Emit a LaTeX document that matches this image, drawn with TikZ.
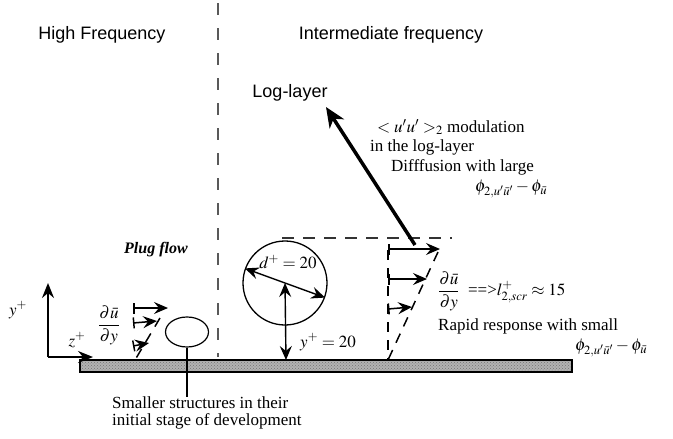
\documentclass[tikz,border=0pt]{standalone}
\usepackage{amsmath}
\usepackage{mathptmx}
\usepackage[no-math]{fontspec}
\setmainfont{Liberation Serif}
\setsansfont{Liberation Sans}
\usetikzlibrary{arrows.meta,shapes.geometric,patterns}

\tikzset{
  head/.style={font=\sffamily\fontsize{18}{22}\selectfont, inner sep=0pt},
  txt/.style={font=\fontsize{17}{17}\selectfont, align=left, inner sep=0pt},
  velarrow/.style={line width=1.5pt, {Bar[width=11pt]}-{Stealth[length=14pt,width=12pt,inset=5pt]}},
  profline/.style={line width=1.5pt, dash pattern=on 10pt off 8pt},
  twoway/.style={line width=1.4pt, {Stealth[length=14pt,width=12pt,inset=5pt]}-{Stealth[length=14pt,width=12pt,inset=5pt]}},
}

\begin{document}
\begin{tikzpicture}[x=1pt,y=-1pt]
\useasboundingbox (0,0) rectangle (673,439);

% regions
\draw[black!65, line width=2pt, dash pattern=on 12pt off 13pt] (218,3) -- (218,357);
\node[head] (hf) at (102,35) {High Frequency};
\node[head] (imf) at (391,35) {Intermediate frequency};

% wall
\fill[gray!60] (80,360) rectangle (572,372);
\fill[pattern=crosshatch dots, pattern color=black!55] (80,360) rectangle (572,372);
\draw[line width=1.1pt] (80,360) rectangle (572,372);

% axes
\coordinate (orig) at (48,357);
\coordinate (ytip) at (48,283);
\coordinate (ztip) at (93,357);
\draw[line width=1.6pt, -{Stealth[length=15pt,width=12pt,inset=5pt]}] (orig) -- (ytip);
\draw[line width=1.6pt, -{Stealth[length=15pt,width=12pt,inset=5pt]}] (orig) -- (ztip);
\node[txt] (ylab) at (18,310) {$y^{+}$};
\node[txt] (zlab) at (77,340) {$z^{+}$};

% high frequency side
\node[txt, font=\bfseries\itshape\fontsize{16}{16}\selectfont] (plug) at (156,250) {Plug flow};
\node[txt] (dudyL) at (109,325) {$\dfrac{\partial\bar u}{\partial y}$};
\draw[velarrow] (133,308) -- (168,308);
\draw[velarrow] (133,323) -- (157,321);
\draw[velarrow] (133,346) -- (149,343);
\draw[profline] (160,318) -- (135,360);
\node[ellipse, draw, line width=1.2pt, minimum width=43pt, minimum height=30pt, inner sep=0pt] (small) at (187,332) {};
\node[txt, anchor=north west] (smalltxt) at (112,397) {Smaller structures in their\\initial stage of development};
\draw[line width=1.2pt] (small.south) -- (small.south |- smalltxt.north);

% intermediate frequency side
\draw[black!80, line width=2pt, dash pattern=on 12pt off 9pt] (282,238) -- (452,238);
\node[circle, draw, line width=1.3pt, minimum size=84pt, inner sep=0pt] (eddy) at (285,283) {};
\draw[twoway] (eddy.160) -- (eddy.-20);
\coordinate (wallpt) at (286,360);
\draw[twoway] (eddy.center) -- (wallpt);
\node[txt] (dlab) at (288,262) {$d^{+}=20$};
\node[txt] (ylab2) at (328,342) {$y^{+}=20$};

\draw[profline] (388,250) -- (388,359);
\draw[profline] (438,252) -- (388,360);
\draw[velarrow] (388,249) -- (440,249);
\draw[velarrow] (388,279) -- (427,279);
\draw[velarrow] (388,309) -- (412,307);

% log-layer
\node[head] (log) at (290,93) {Log-layer};
\coordinate (logbase) at (415,245);
\coordinate (logtip) at (326,107);
\draw[line width=3.5pt, -{Stealth[length=20pt,width=17pt,inset=6pt]}] (logbase) -- (logtip);
\node[txt, anchor=west] (modl) at (377,127) {$<u'u'>_{2}$ modulation};
\node[txt, anchor=west] (inlog) at (370,147) {in the log-layer};
\node[txt, anchor=west] (diff) at (391,167) {Difffusion with large};
\node[txt, anchor=west] (phiA) at (475,189) {$\phi_{2,u'\bar u'}-\phi_{\bar u}$};

% screening
\node[txt, anchor=west] (scr) at (438,291) {$\dfrac{\partial\bar u}{\partial y}$\ \ ==>$l^{+}_{2,scr}\approx 15$};
\node[txt, anchor=west] (rapid) at (438,326) {Rapid response with small};
\node[txt, anchor=west] (phiB) at (575,348) {$\phi_{2,u'\bar u'}-\phi_{\bar u}$};
\end{tikzpicture}
\end{document}
